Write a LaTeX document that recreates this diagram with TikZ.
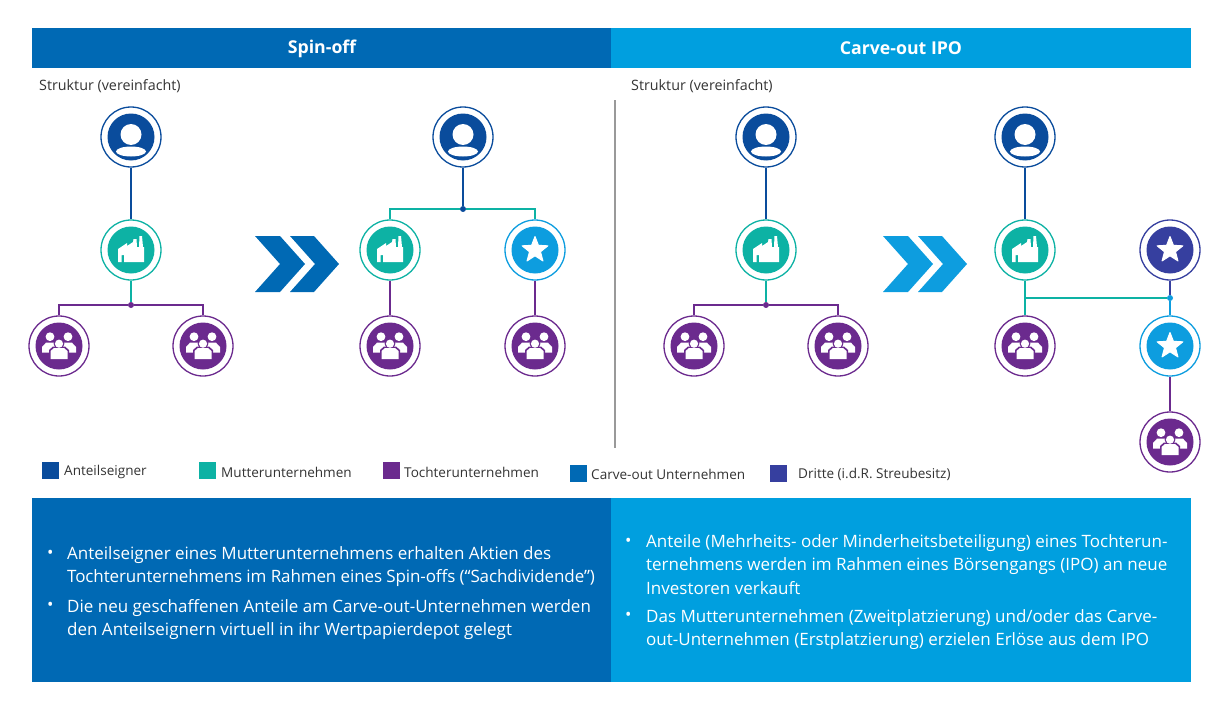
\documentclass[tikz,border=0pt]{standalone}
\usepackage{fontspec}
\setmainfont{Open Sans}
\usetikzlibrary{calc}
\definecolor{shareblue}{HTML}{0A4C9C}
\definecolor{parentteal}{HTML}{0DB2A4}
\definecolor{subpurple}{HTML}{6B2A8E}
\definecolor{carveblue}{HTML}{0D9DDF}
\definecolor{thirdindigo}{HTML}{363F9F}
\definecolor{barblue}{HTML}{0069B4}
\definecolor{barlight}{HTML}{009FDF}
\definecolor{textgrey}{HTML}{333333}
\tikzset{
  ring/.style={circle,draw=#1,line width=1.3pt,fill=white,minimum size=60pt,inner sep=0pt},
  dot/.style={circle,fill=#1,minimum size=6pt,inner sep=0pt},
  bullettext/.style={anchor=north west,align=left,text=white,font=\fontsize{17}{23.6}\selectfont,inner sep=0pt},
  legendtext/.style={anchor=west,text=textgrey,font=\fontsize{13.55}{16}\selectfont,inner sep=0pt},
  structext/.style={anchor=west,text=textgrey,font=\fontsize{14.3}{16}\selectfont,inner sep=0pt},
  legendbox/.style={fill=#1,minimum size=17pt,inner sep=0pt},
  headtext/.style={text=white,font=\fontsize{17.7}{20}\selectfont\bfseries},
  link/.style={line width=1.3pt,draw=#1},
}
% disc and white glyph, drawn on the ring node
\newcommand{\iconperson}[1]{
  \fill[shareblue] (#1) circle (23.5);
  \fill[white] ($(#1)+(0,-2.5)$) circle (10.5);
  \fill[white] ($(#1)+(0,14.5)$) ellipse (15 and 5);
}
\newcommand{\iconfactory}[1]{
  \fill[parentteal] (#1) circle (23.5);
  \fill[white,shift={(#1)}] (-13,12) -- (-13,-1) -- (-4,-7) -- (-4,-4) -- (2,-8) -- (2.5,-11) -- (5.5,-11) -- (6,-3) -- (8,-3) -- (8.5,-14) -- (11,-14) -- (12,-3) -- (13,-3) -- (13,12) -- (-7,12) -- (-7,5) -- (-9.5,5) -- (-9.5,12) -- cycle;
}
\newcommand{\iconstar}[2]{
  \fill[#2] (#1) circle (23.5);
  \fill[white,shift={(#1)},line join=round,draw=white,line width=1pt]
    (-90:13.5) -- (-126:5.8) -- (-162:13.5) -- (-198:5.8) -- (-234:13.5) -- (-270:5.8) -- (-306:13.5) -- (-342:5.8) -- (-18:13.5) -- (-54:5.8) -- cycle;
}
\newcommand{\iconpeople}[1]{
  \fill[subpurple] (#1) circle (23.5);
  \begin{scope}[shift={(#1)}]
    \fill[white] (-9,-9.3) circle (4.4);
    \fill[white] (9,-9.3) circle (4.4);
    \fill[white] (-17,6.5) -- (-17,1) -- (-13,-3.3) -- (-5,-3.3) -- (-1,1) -- (-1,6.5) -- cycle;
    \fill[white] (17,6.5) -- (17,1) -- (13,-3.3) -- (5,-3.3) -- (1,1) -- (1,6.5) -- cycle;
    \fill[subpurple] (0,-2.3) circle (5.4);
    \fill[subpurple] (-10,14) -- (-10,4) -- (-6,0.5) -- (6,0.5) -- (10,4) -- (10,14) -- cycle;
    \fill[white] (0,-2.3) circle (4.1);
    \fill[white] (-8.5,13) -- (-8.5,5) -- (-5,2) -- (5,2) -- (8.5,5) -- (8.5,13) -- cycle;
  \end{scope}
}
\begin{document}
\begin{tikzpicture}[x=1pt,y=-1pt]
\useasboundingbox (0,0) rectangle (1224,725);

\fill[barblue] (32,28) rectangle (611,68);
\fill[barlight] (611,28) rectangle (1191,68);
\fill[barblue] (32,498) rectangle (611,682);
\fill[barlight] (611,498) rectangle (1191,682);
\node[headtext] (headspin) at (322,48.5) {Spin-off};
\node[headtext] (headcarve) at (901,48.5) {Carve-out IPO};
\node[structext] (strucspin) at (39,86) {Struktur (vereinfacht)};
\node[structext] (struccarve) at (631,86) {Struktur (vereinfacht)};
\draw[line width=1.3pt,black!40] (615,100) -- (615,448);

% spin-off, before
\node[ring=shareblue] (a1) at (131,137) {};
\node[ring=parentteal] (a2) at (131,250) {};
\node[ring=subpurple] (a3) at (59,346) {};
\node[ring=subpurple] (a4) at (203,346) {};
\node[dot=subpurple] (ad) at (131,305) {};
\draw[link=shareblue] (a1) -- (a2);
\draw[link=parentteal] (a2) -- (ad);
\draw[link=subpurple] (a3) |- (ad) -| (a4);

% spin-off, after
\node[ring=shareblue] (b1) at (463,137) {};
\node[ring=parentteal] (b2) at (390,250) {};
\node[ring=carveblue] (b3) at (535,250) {};
\node[ring=subpurple] (b4) at (390,346) {};
\node[ring=subpurple] (b5) at (535,346) {};
\node[dot=shareblue] (bd) at (463,209) {};
\draw[link=shareblue] (b1) -- (bd);
\draw[link=parentteal] (b2) |- (bd) -| (b3);
\draw[link=subpurple] (b2) -- (b4);
\draw[link=subpurple] (b3) -- (b5);

% carve-out, before
\node[ring=shareblue] (c1) at (766,137) {};
\node[ring=parentteal] (c2) at (766,250) {};
\node[ring=subpurple] (c3) at (694,346) {};
\node[ring=subpurple] (c4) at (838,346) {};
\node[dot=subpurple] (cd) at (766,305) {};
\draw[link=shareblue] (c1) -- (c2);
\draw[link=parentteal] (c2) -- (cd);
\draw[link=subpurple] (c3) |- (cd) -| (c4);

% carve-out, after
\node[ring=shareblue] (d1) at (1025,137) {};
\node[ring=parentteal] (d2) at (1025,250) {};
\node[ring=subpurple] (d3) at (1025,346) {};
\node[ring=thirdindigo] (d4) at (1170,250) {};
\node[ring=carveblue] (d5) at (1170,346) {};
\node[ring=subpurple] (d6) at (1170,442) {};
\node[dot=carveblue] (dd) at (1170,298) {};
\coordinate (dj) at (1025,298);
\draw[link=shareblue] (d1) -- (d2);
\draw[link=parentteal] (d2) -- (d3);
\draw[link=parentteal] (dj) -- (dd);
\draw[link=thirdindigo] (d4) -- (dd);
\draw[link=carveblue] (dd) -- (d5);
\draw[link=subpurple] (d5) -- (d6);

\iconperson{a1} \iconperson{b1} \iconperson{c1} \iconperson{d1}
\iconfactory{a2} \iconfactory{b2} \iconfactory{c2} \iconfactory{d2}
\iconpeople{a3} \iconpeople{a4} \iconpeople{b4} \iconpeople{b5}
\iconpeople{c3} \iconpeople{c4} \iconpeople{d3} \iconpeople{d6}
\iconstar{b3}{carveblue} \iconstar{d5}{carveblue} \iconstar{d4}{thirdindigo}

% chevrons
\fill[barblue] (255,236) -- (280,236) -- (305,264) -- (280,292) -- (255,292) -- (280,264) -- cycle;
\fill[barblue] (290,236) -- (314,236) -- (339,264) -- (314,292) -- (290,292) -- (315,264) -- cycle;
\fill[carveblue] (883,236) -- (908,236) -- (933,264) -- (908,292) -- (883,292) -- (908,264) -- cycle;
\fill[carveblue] (918,236) -- (942,236) -- (967,264) -- (942,292) -- (918,292) -- (943,264) -- cycle;

% legend
\node[legendbox=shareblue] (k1) at (50.5,470.5) {};
\node[legendtext] (l1) at (64,472) {Anteilseigner};
\node[legendbox=parentteal] (k2) at (207.5,470.5) {};
\node[legendtext] (l2) at (221,472) {Mutterunternehmen};
\node[legendbox=subpurple] (k3) at (391.5,470.5) {};
\node[legendtext] (l3) at (404,472) {Tochterunternehmen};
\node[legendbox=barblue] (k4) at (578.5,473.5) {};
\node[legendtext] (l4) at (591,474) {Carve-out Unternehmen};
\node[legendbox=thirdindigo] (k5) at (778.5,473.5) {};
\node[legendtext] (l5) at (798,474) {Dritte (i.d.R. Streubesitz)};

% text panels
\node[bullettext] (s0) at (47,550) {•};
\node[bullettext] (s1) at (67,546) {Anteilseigner eines Mutterunternehmens erhalten Aktien des\\{\addfontfeature{LetterSpace=-0.7}Tochterunternehmens im Rahmen eines Spin-offs (“Sachdividende”)}};
\node[bullettext] (s2) at (47,602) {•};
\node[bullettext] (s3) at (67,599) {Die neu geschaffenen Anteile am Carve-out-Unternehmen werden\\den Anteilseignern virtuell in ihr Wertpapierdepot gelegt};
\node[bullettext] (r0) at (625,538) {•};
\node[bullettext] (r1) at (646,534) {Anteile (Mehrheits- oder Minderheitsbeteiligung) eines Tochterun-\\ternehmens werden im Rahmen eines Börsengangs (IPO) an neue\\Investoren verkauft};
\node[bullettext] (r2) at (625,612) {•};
\node[bullettext] (r3) at (646,609) {Das Mutterunternehmen (Zweitplatzierung) und/oder das Carve-\\out-Unternehmen (Erstplatzierung) erzielen Erlöse aus dem IPO};

\end{tikzpicture}
\end{document}
